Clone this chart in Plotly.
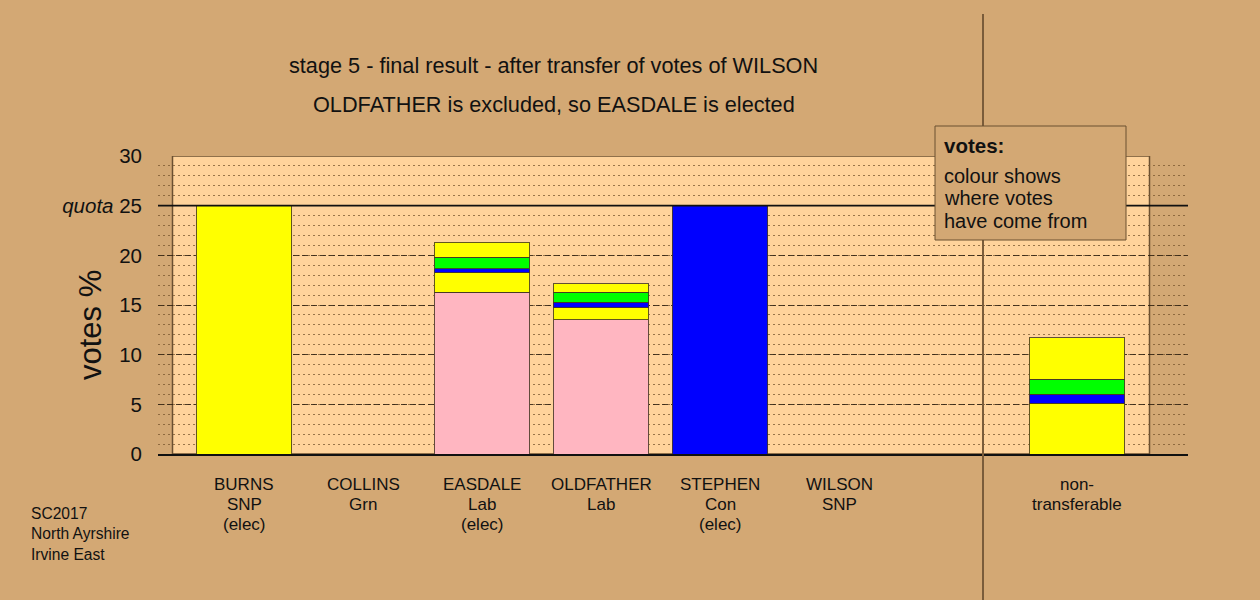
import plotly.graph_objects as go

# ---------------- data ----------------
label_lines = [
    ["BURNS", "SNP", "(elec)"],
    ["COLLINS", "Grn"],
    ["EASDALE", "Lab", "(elec)"],
    ["OLDFATHER", "Lab"],
    ["STEPHEN", "Con", "(elec)"],
    ["WILSON", "SNP"],
    ["non-", "transferable"],
]
positions = [0, 1, 2, 3, 4, 5, 7]

own_votes = [25.0, None, 16.28, 13.5, 25.0, None, None]
own_colours = ["#FFFF00", "#00FF00", "#FFB6C1", "#FFB6C1", "#0000FF", "#FFFF00", "#FFFF00"]

from_burns = [None, None, 1.98, 1.23, None, None, 5.13]     # SNP surplus (yellow)
from_stephen = [None, None, 0.37, 0.57, None, None, 0.87]   # Con surplus (blue)
from_collins = [None, None, 1.20, 0.98, None, None, 1.55]   # Grn excluded (green)
from_wilson = [None, None, 1.48, 0.87, None, None, 4.13]    # SNP excluded (yellow)

quota = 25
y_ticks = [0, 5, 10, 15, 20, 25, 30]
y_ticktext = ["0", "5", "10", "15", "20", "<i>quota</i> 25", "30"]

title1 = "stage 5 - final result - after transfer of votes of WILSON"
title2 = "OLDFATHER is excluded, so EASDALE is elected"
footer_lines = ["SC2017", "North Ayrshire", "Irvine East"]
legend_title = "votes:"
legend_lines = ["colour shows", "where votes", "have come from"]

# ---------------- styling ----------------
BG = "#D3A874"
PANEL = "#FFD39B"
FONT = "Liberation Sans, Arial, Helvetica, sans-serif"
OUTLINE = "rgba(70,55,35,0.85)"

# pixel helpers (plot area: x 158..1188, y 156..454)
L, R, T, B = 158, 1188, 156, 454
def py(p):
    return (B - p) / (B - T)
def px(p):
    return (p - L) / (R - L)

fig = go.Figure()

fig.add_trace(go.Bar(x=positions, y=own_votes, width=0.8,
                     marker=dict(color=own_colours, line=dict(color=OUTLINE, width=1)),
                     showlegend=False, hoverinfo="skip"))
for vals, col in [(from_burns, "#FFFF00"), (from_stephen, "#0000FF"),
                  (from_collins, "#00FF00"), (from_wilson, "#FFFF00")]:
    fig.add_trace(go.Bar(x=positions, y=vals, width=0.8,
                         marker=dict(color=col, line=dict(color=OUTLINE, width=1)),
                         showlegend=False, hoverinfo="skip"))

x_lo = (L - 244) / 119
x_hi = (R - 244) / 119
panel_x0 = (172.5 - 244) / 119
panel_x1 = (1149.5 - 244) / 119
sep_x = (983 - 244) / 119

shapes = [
    # panel
    dict(type="rect", xref="x", yref="y", x0=panel_x0, x1=panel_x1, y0=0, y1=30,
         fillcolor=PANEL, line=dict(color="#6b5030", width=1.5), layer="below"),
    # quota line
    dict(type="line", xref="paper", yref="y", x0=0, x1=1, y0=quota, y1=quota,
         line=dict(color="#111111", width=1.6), layer="above"),
    # separator
    dict(type="line", xref="x", yref="paper", x0=sep_x, x1=sep_x, y0=py(600), y1=py(14),
         line=dict(color="#7a5c3a", width=2), layer="above"),
    # legend box
    dict(type="rect", xref="paper", yref="paper", x0=px(935), x1=px(1126), y0=py(240), y1=py(126),
         fillcolor=BG, line=dict(color="#6b5030", width=1), layer="above"),
]

annotations = []
# titles
annotations.append(dict(text=title1, xref="paper", yref="paper", x=px(553.5), y=py(65),
                        showarrow=False, xanchor="center", yanchor="middle",
                        font=dict(size=21.7, color="#111111", family=FONT)))
annotations.append(dict(text=title2, xref="paper", yref="paper", x=px(554), y=py(104),
                        showarrow=False, xanchor="center", yanchor="middle",
                        font=dict(size=21.7, color="#111111", family=FONT)))
# category labels
for pos, lines in zip(positions, label_lines):
    for i, ln in enumerate(lines):
        annotations.append(dict(text=ln, xref="x", yref="paper", x=pos, y=py(484 + 20 * i),
                                showarrow=False, xanchor="center", yanchor="middle",
                                font=dict(size=17, color="#111111", family=FONT)))
# footer
for i, ln in enumerate(footer_lines):
    annotations.append(dict(text=ln, xref="paper", yref="paper", x=px(29), y=py(513 + 20.5 * i),
                            showarrow=False, xanchor="left", yanchor="middle",
                            font=dict(size=15.6, color="#111111", family=FONT)))
# legend text
annotations.append(dict(text="<b>" + legend_title + "</b>", xref="paper", yref="paper",
                        x=px(942), y=py(145), showarrow=False, xanchor="left", yanchor="middle",
                        font=dict(size=20.5, color="#111111", family=FONT)))
for i, ln in enumerate(legend_lines):
    annotations.append(dict(text=ln, xref="paper", yref="paper", x=px(942), y=py(175.5 + 22.5 * i),
                            showarrow=False, xanchor="left", yanchor="middle",
                            font=dict(size=20, color="#111111", family=FONT)))
# y title
annotations.append(dict(text="votes %", xref="paper", yref="paper", x=px(90), y=py(325),
                        showarrow=False, textangle=-90, xanchor="center", yanchor="middle",
                        font=dict(size=31, color="#111111", family=FONT)))

fig.update_layout(
    width=1260, height=600,
    margin=dict(l=L, r=1260 - R, t=T, b=600 - B, pad=0),
    paper_bgcolor=BG, plot_bgcolor=BG,
    barmode="stack",
    shapes=shapes,
    annotations=annotations,
    font=dict(family=FONT, color="#111111"),
    xaxis=dict(range=[x_lo, x_hi], showgrid=False, zeroline=False, showticklabels=False,
               ticks="", showline=True, linecolor="#111111", linewidth=2, fixedrange=True),
    yaxis=dict(range=[0, 30], tickvals=y_ticks, ticktext=y_ticktext, ticks="",
               ticklabelstandoff=15, tickfont=dict(size=20.5, color="#111111", family=FONT),
               showgrid=True, gridcolor="rgba(45,30,15,0.85)", gridwidth=1, griddash="6px,3px",
               zeroline=False, showline=False,
               minor=dict(dtick=1, tick0=0, showgrid=True, gridcolor="rgba(120,85,45,0.75)",
                          gridwidth=1, griddash="2px,3px"),
               fixedrange=True),
)

fig.write_html("out.html", config={"displayModeBar": False},
               post_script="document.body.style.margin='0';document.body.style.overflow='hidden';")
